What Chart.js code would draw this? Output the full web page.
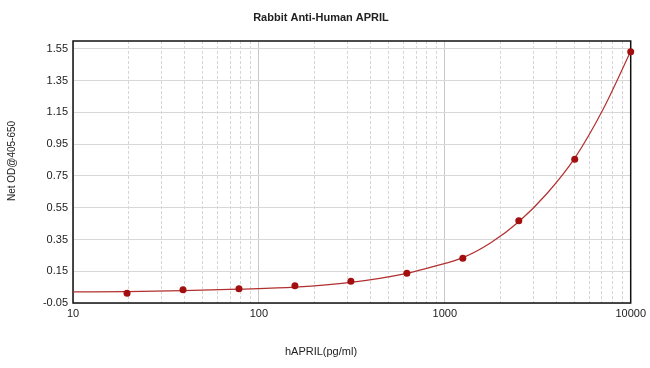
<!DOCTYPE html>
<html>
<head>
<meta charset="utf-8">
<script src="https://cdn.jsdelivr.net/npm/chart.js@4/dist/chart.umd.min.js"></script>
<style>
html,body{margin:0;padding:0;background:#fff;}
#wrap{width:650px;height:368px;position:relative;}
</style>
</head>
<body>
<div id="wrap"><canvas id="c"></canvas></div>
<script>
// ---- data ----
const chartTitle = "Rabbit Anti-Human APRIL";
const xTitle = "hAPRIL(pg/ml)";
const yTitle = "Net OD@405-650";
const concentrations = [19.53, 39.06, 78.125, 156.25, 312.5, 625, 1250, 2500, 5000, 10000];
const odValues = [0.012, 0.033, 0.039, 0.058, 0.087, 0.137, 0.232, 0.468, 0.855, 1.533];
// fitted curve at these concentrations
const curveX = [10, 19.53, 39.06, 78.125, 156.25, 312.5, 625, 884, 1250, 1768, 2500, 3536, 5000, 7071, 10000];
const curveY = [0.020, 0.022, 0.028, 0.037, 0.050, 0.080, 0.137, 0.182, 0.236, 0.330, 0.462, 0.638, 0.862, 1.165, 1.535];
const yTickValues = [-0.05, 0.15, 0.35, 0.55, 0.75, 0.95, 1.15, 1.35, 1.55];
const xDecadeLabels = [10, 100, 1000, 10000];
const xGridValues = [10,20,30,40,50,60,70,80,90,100,200,300,400,500,600,700,800,900,1000,2000,3000,4000,5000,6000,7000,8000,9000,10000];

const FONT = "'Liberation Sans', Arial, sans-serif";
const isMajor = v => xDecadeLabels.includes(v);

const overlay = {
  id: 'overlay',
  beforeDatasetsDraw(chart) {
    const {ctx, chartArea: a} = chart;
    ctx.save();
    ctx.strokeStyle = '#111';
    ctx.lineWidth = 1.5;
    ctx.strokeRect(a.left, a.top, a.right - a.left, a.bottom - a.top);
    ctx.restore();
  },
  afterDraw(chart) {
    const ctx = chart.ctx;
    ctx.save();
    ctx.fillStyle = '#222';
    ctx.textAlign = 'center';
    ctx.textBaseline = 'middle';
    ctx.font = "bold 11px " + FONT;
    ctx.fillText(chartTitle, 321, 18);
    ctx.font = "11px " + FONT;
    ctx.fillText(xTitle, 321, 352);
    ctx.translate(12, 161);
    ctx.rotate(-Math.PI / 2);
    ctx.font = "10px " + FONT;
    ctx.fillText(yTitle, 0, 0);
    ctx.restore();
  }
};

new Chart(document.getElementById('c'), {
  data: {
    datasets: [
      {
        type: 'line',
        data: curveX.map((x, i) => ({x, y: curveY[i]})),
        borderColor: '#b22f2f',
        borderWidth: 1.2,
        pointRadius: 0,
        cubicInterpolationMode: 'monotone',
        fill: false,
        clip: false,
        order: 2
      },
      {
        type: 'scatter',
        data: concentrations.map((x, i) => ({x, y: odValues[i]})),
        backgroundColor: '#a30e0e',
        borderColor: '#a30e0e',
        pointRadius: 3.5,
        pointBorderWidth: 0,
        clip: false,
        order: 1
      }
    ]
  },
  options: {
    responsive: true,
    maintainAspectRatio: false,
    animation: false,
    layout: {padding: {left: 0, right: 17, top: 41, bottom: 0}},
    plugins: {legend: {display: false}, tooltip: {enabled: false}, title: {display: false}},
    scales: {
      x: {
        type: 'logarithmic',
        min: 10,
        max: 10000,
        afterBuildTicks: ax => { ax.ticks = xGridValues.map(v => ({value: v, major: isMajor(v)})); },
        afterFit: s => { s.height = 65; },
        ticks: {
          autoSkip: false,
          maxRotation: 0,
          padding: 4,
          color: '#222',
          font: {family: FONT, size: 11},
          callback: v => isMajor(v) ? String(v) : ''
        },
        grid: {
          drawTicks: false,
          color: ctx => (ctx.tick && isMajor(ctx.tick.value)) ? '#c8c8c8' : '#d6d6d6',
          lineWidth: 1
        },
        border: {
          display: false,
          dash: ctx => (ctx.tick && isMajor(ctx.tick.value)) ? [] : [3, 2]
        }
      },
      y: {
        type: 'linear',
        min: -0.05,
        max: 1.6,
        afterBuildTicks: ax => { ax.ticks = yTickValues.map(v => ({value: v})); },
        afterFit: s => { s.width = 73; },
        ticks: {
          padding: 5,
          color: '#222',
          font: {family: FONT, size: 11},
          callback: v => Number(v).toFixed(2)
        },
        grid: {drawTicks: false, color: '#d8d8d8', lineWidth: 1},
        border: {display: false}
      }
    }
  },
  plugins: [overlay]
});
</script>
</body>
</html>
